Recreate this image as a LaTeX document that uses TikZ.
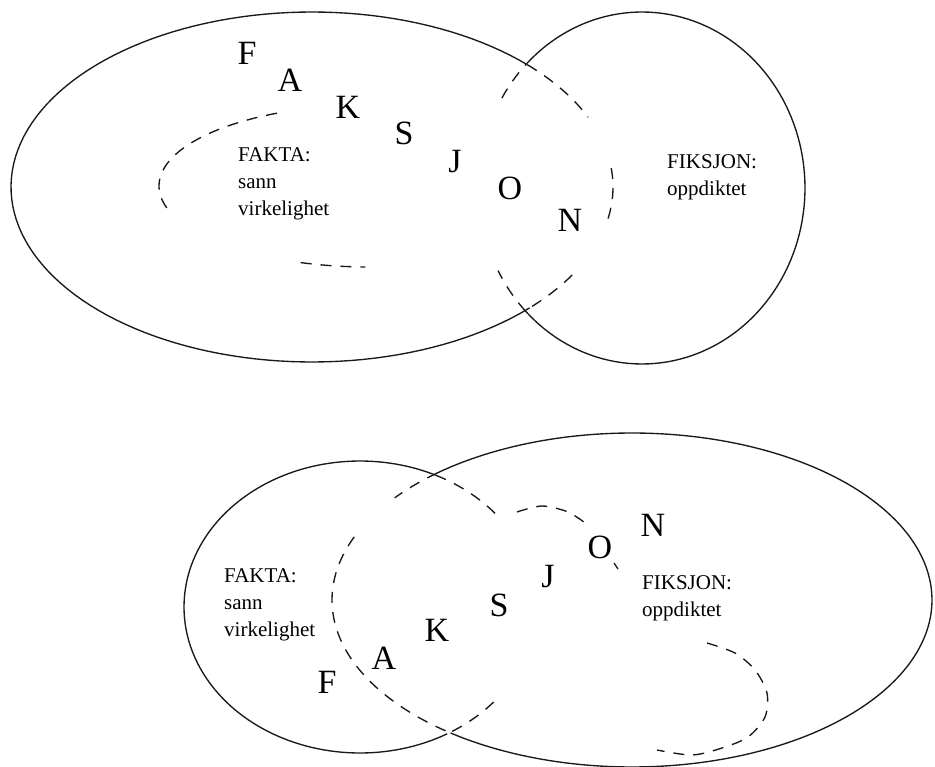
\documentclass[tikz,border=0pt]{standalone}
\usepackage{fontspec}
\setmainfont{Liberation Serif}
\begin{document}
\begin{tikzpicture}[x=1pt,y=-1pt,
  outline/.style={line width=1.35pt, draw=black!90},
  hidden/.style={outline, dash pattern=on 11pt off 9pt},
  bigletter/.style={inner sep=0pt, anchor=center, font=\fontsize{34}{40}\selectfont},
  txt/.style={inner sep=0pt, anchor=base west, font=\fontsize{21}{27}\selectfont}]
\useasboundingbox (0,0) rectangle (935,767);

% ================= TOP DIAGRAM =================
% big ellipse (FAKTA), centre (312,187), rx 301, ry 175
\draw[outline] plot[domain=43.7:315.7, samples=120, variable=\t] ({312+301*cos(\t)},{187+175*sin(\t)});
\draw[hidden] plot[domain=-44.3:-23.5, samples=30, variable=\t] ({312+301*cos(\t)},{187+175*sin(\t)});
\draw[hidden] plot[domain=-6.2:11.5, samples=30, variable=\t] ({312+301*cos(\t)},{187+175*sin(\t)});
\draw[hidden] plot[domain=30.2:43.7, samples=30, variable=\t] ({312+301*cos(\t)},{187+175*sin(\t)});
% circle (FIKSJON), centre (642,188), rx 163, ry 176
\draw[outline] plot[domain=-135:135.6, samples=120, variable=\t] ({642+163*cos(\t)},{188+176*sin(\t)});
\draw[hidden] plot[domain=210.7:225, samples=30, variable=\t] ({642+163*cos(\t)},{188+176*sin(\t)});
\draw[hidden] plot[domain=135.6:152, samples=30, variable=\t] ({642+163*cos(\t)},{188+176*sin(\t)});
% inner dashed region (fakta)
\draw[hidden] plot[domain=244:160.5, samples=60, variable=\t] ({369+210*cos(\t)},{186+81*sin(\t)});
\draw[hidden] plot[domain=109:91, samples=30, variable=\t] ({369+210*cos(\t)},{186+81*sin(\t)});

% letters
\node[bigletter] (tF) at (247,53) {F};
\node[bigletter] (tA) at (290,80) {A};
\node[bigletter] (tK) at (348,107) {K};
\node[bigletter] (tS) at (404,133) {S};
\node[bigletter] (tJ) at (455,162) {J};
\node[bigletter] (tO) at (510,188) {O};
\node[bigletter] (tN) at (570,220) {N};

\node[txt] (tfa1) at (238,162) {FAKTA:};
\node[txt] (tfa2) at (238,189) {sann};
\node[txt] (tfa3) at (238,216) {virkelighet};
\node[txt] (tfi1) at (667,169) {FIKSJON:};
\node[txt] (tfi2) at (667,196) {oppdiktet};

% ================= BOTTOM DIAGRAM =================
% small ellipse (FAKTA), centre (360,607), rx 176, ry 146
\draw[outline] plot[domain=60.3:295.5, samples=120, variable=\t] ({360+176*cos(\t)},{607+146*sin(\t)});
\draw[hidden] plot[domain=-64.5:-39.6, samples=30, variable=\t] ({360+176*cos(\t)},{607+146*sin(\t)});
\draw[hidden] plot[domain=40.6:60.3, samples=30, variable=\t] ({360+176*cos(\t)},{607+146*sin(\t)});
% big ellipse (FIKSJON), centre (632,600), rx 300, ry 167
\draw[outline] plot[domain=-130.5:127.2, samples=150, variable=\t] ({632+300*cos(\t)},{600+167*sin(\t)});
\draw[hidden] plot[domain=229.5:217.7, samples=30, variable=\t] ({632+300*cos(\t)},{600+167*sin(\t)});
\draw[hidden] plot[domain=202.2:127.2, samples=80, variable=\t] ({632+300*cos(\t)},{600+167*sin(\t)});
% inner dashed region (fiksjon)
\draw[hidden] plot[smooth] coordinates {(517,512) (542,506) (568,512) (588,525)};
\draw[hidden] plot[smooth] coordinates {(614,563) (618,569)};
\draw[hidden] plot[smooth] coordinates {(707,643) (735,653) (755,670) (767,693) (765,717) (748,737) (722,748) (692,755) (657,750)};

% letters
\node[bigletter] (bF) at (327,682) {F};
\node[bigletter] (bA) at (384,658) {A};
\node[bigletter] (bK) at (437,630) {K};
\node[bigletter] (bS) at (499,605) {S};
\node[bigletter] (bJ) at (548,577) {J};
\node[bigletter] (bO) at (600,547) {O};
\node[bigletter] (bN) at (653,525) {N};

\node[txt] (bfa1) at (224,582) {FAKTA:};
\node[txt] (bfa2) at (224,609) {sann};
\node[txt] (bfa3) at (224,636) {virkelighet};
\node[txt] (bfi1) at (642,589) {FIKSJON:};
\node[txt] (bfi2) at (642,616) {oppdiktet};
\end{tikzpicture}
\end{document}
